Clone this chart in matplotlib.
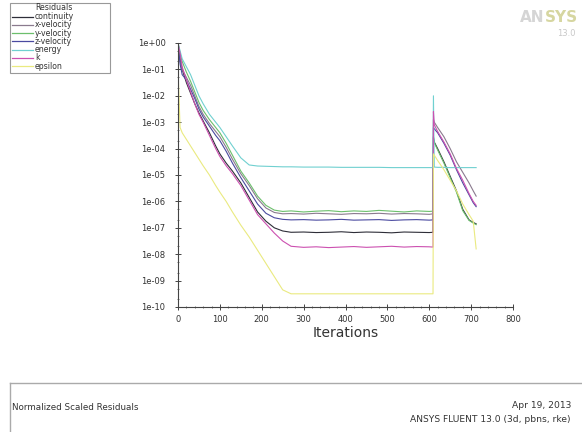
import numpy as np
import matplotlib
matplotlib.use("Agg")
import matplotlib.pyplot as plt
from matplotlib.lines import Line2D
from matplotlib.patches import Rectangle
from matplotlib.ticker import FixedLocator, MultipleLocator, LogLocator, NullFormatter

# ---------------- data (log10 of residuals) ----------------
iterations = [0, 5, 10, 20, 30, 40, 50, 60, 75, 90,
              100, 115, 130, 150, 170, 190, 210, 230, 250, 270,
              300, 330, 360, 390, 420, 450, 480, 510, 540, 570,
              600, 609, 610, 612, 620, 635, 650, 665, 680, 695,
              705, 712]

continuity_log = [0.0, -0.6, -1.0, -1.5, -1.9, -2.3, -2.65, -2.95, -3.4, -3.9,
                  -4.2, -4.55, -4.85, -5.3, -5.85, -6.4, -6.75, -7.0, -7.12, -7.17,
                  -7.16, -7.18, -7.17, -7.15, -7.18, -7.16, -7.17, -7.19, -7.16, -7.17,
                  -7.18, -7.17, -3.55, -3.75, -4.0, -4.5, -5.05, -5.6, -6.3, -6.7,
                  -6.8, -6.85]
xvel_log = [0.0, -0.7, -1.0, -1.3, -1.6, -2.0, -2.4, -2.7, -3.05, -3.35,
            -3.55, -3.95, -4.4, -4.95, -5.4, -5.9, -6.25, -6.42, -6.47, -6.46,
            -6.48, -6.45, -6.47, -6.49, -6.46, -6.47, -6.45, -6.48, -6.46, -6.47,
            -6.49, -6.47, -2.9, -3.0, -3.2, -3.55, -4.0, -4.5, -4.9, -5.3,
            -5.6, -5.8]
yvel_log = [0.0, -0.4, -0.7, -1.1, -1.45, -1.85, -2.25, -2.55, -2.9, -3.2,
            -3.4, -3.8, -4.25, -4.85, -5.3, -5.8, -6.15, -6.33, -6.38, -6.36,
            -6.40, -6.37, -6.35, -6.39, -6.36, -6.38, -6.34, -6.37, -6.40, -6.36,
            -6.38, -6.37, -3.6, -3.78, -4.05, -4.55, -5.1, -5.65, -6.35, -6.72,
            -6.82, -6.88]
zvel_log = [0.0, -0.8, -1.2, -1.4, -1.75, -2.1, -2.5, -2.8, -3.15, -3.5,
            -3.7, -4.1, -4.55, -5.1, -5.6, -6.1, -6.45, -6.62, -6.68, -6.70,
            -6.69, -6.71, -6.70, -6.68, -6.71, -6.70, -6.69, -6.72, -6.70, -6.69,
            -6.71, -6.70, -3.2, -3.25, -3.4, -3.8, -4.25, -4.8, -5.3, -5.75,
            -6.05, -6.2]
energy_log = [0.0, -0.3, -0.6, -0.9, -1.2, -1.6, -2.0, -2.3, -2.7, -3.0,
              -3.2, -3.55, -3.9, -4.35, -4.62, -4.66, -4.67, -4.68, -4.69, -4.69,
              -4.70, -4.70, -4.70, -4.71, -4.71, -4.71, -4.71, -4.72, -4.72, -4.72,
              -4.72, -4.72, -2.0, -4.70, -4.71, -4.71, -4.72, -4.72, -4.72, -4.72,
              -4.72, -4.72]
k_log = [0.0, -0.4, -0.9, -1.4, -1.85, -2.3, -2.7, -3.0, -3.5, -4.0,
         -4.3, -4.65, -4.95, -5.4, -5.95, -6.5, -6.85, -7.2, -7.5, -7.7,
         -7.74, -7.72, -7.75, -7.73, -7.71, -7.74, -7.72, -7.70, -7.73, -7.71,
         -7.72, -7.73, -2.6, -3.1, -3.35, -3.75, -4.2, -4.75, -5.2, -5.7,
         -6.0, -6.15]
epsilon_log = [-1.0, -3.2, -3.4, -3.65, -3.9, -4.15, -4.4, -4.65, -5.0, -5.4,
               -5.65, -6.0, -6.4, -6.9, -7.35, -7.85, -8.35, -8.85, -9.35, -9.5,
               -9.5, -9.5, -9.5, -9.5, -9.5, -9.5, -9.5, -9.5, -9.5, -9.5,
               -9.5, -9.5, -4.2, -4.25, -4.45, -4.8, -5.2, -5.6, -6.1, -6.5,
               -6.75, -7.8]

series_names = ["continuity", "x-velocity", "y-velocity", "z-velocity", "energy", "k", "epsilon"]
series_logs = [continuity_log, xvel_log, yvel_log, zvel_log, energy_log, k_log, epsilon_log]
series_colors = ["#2e2e38", "#8a7a8e", "#6cbf6c", "#4a4aa0", "#70d0d0", "#cc50b0", "#eaea80"]

x_ticks = [0, 100, 200, 300, 400, 500, 600, 700, 800]
y_exponents = list(range(0, -11, -1))
y_tick_labels = ["1e+00", "1e-01", "1e-02", "1e-03", "1e-04", "1e-05",
                 "1e-06", "1e-07", "1e-08", "1e-09", "1e-10"]

# ---------------- figure ----------------
W, H = 582, 432
fig = plt.figure(figsize=(W / 100, H / 100), dpi=100)
fig.patch.set_facecolor("white")

def fx(px):
    return px / W

def fy(py):
    return 1 - py / H

ax = fig.add_axes([fx(178), fy(307), fx(513) - fx(178), fy(43) - fy(307)])
ax.set_yscale("log")
it = np.array(iterations)
for name, lg, col in zip(series_names, series_logs, series_colors):
    ax.plot(it, 10.0 ** np.array(lg), color=col, lw=0.8)

ax.set_xlim(0, 800)
ax.set_ylim(1e-10, 1e0)
for s in ["top", "right"]:
    ax.spines[s].set_visible(False)
for s in ["left", "bottom"]:
    ax.spines[s].set_color("#444444")
    ax.spines[s].set_linewidth(0.8)

ax.xaxis.set_major_locator(FixedLocator(x_ticks))
ax.xaxis.set_minor_locator(MultipleLocator(20))
ax.set_xticklabels([str(v) for v in x_ticks])
ax.yaxis.set_major_locator(FixedLocator([10.0 ** e for e in y_exponents]))
ax.set_yticklabels(y_tick_labels)
ax.yaxis.set_minor_locator(LogLocator(base=10, subs=(2.0, 5.0), numticks=100))
ax.yaxis.set_minor_formatter(NullFormatter())
ax.tick_params(axis="both", which="major", direction="inout", length=4, width=0.7,
               color="#444444", labelsize=6, labelcolor="#333333")
ax.tick_params(axis="y", which="major", pad=7)
ax.tick_params(axis="x", which="major", pad=4)
ax.tick_params(axis="both", which="minor", direction="inout", length=2, width=0.5,
               color="#444444")
ax.set_xlabel("Iterations", fontsize=10, color="#333333", labelpad=1)

# legend box (manual, Fluent style)
fig.add_artist(Rectangle((fx(10), fy(73)), fx(110) - fx(10), fy(3) - fy(73),
                         transform=fig.transFigure, fill=False, ec="#999999", lw=0.8))
fig.text(fx(35), fy(8), "Residuals", fontsize=5.6, color="#333333", va="center")
for i, (name, col) in enumerate(zip(series_names, series_colors)):
    yy = fy(16.5 + i * 8.3)
    fig.add_artist(Line2D([fx(12), fx(33)], [yy, yy], transform=fig.transFigure,
                          color=col, lw=0.9))
    fig.text(fx(35), yy, name, fontsize=5.6, color="#333333", va="center")

# ANSYS logo
sys_txt = fig.text(fx(578), fy(18), "SYS", fontsize=11, fontweight="bold",
                   color="#d6d6a0", ha="right", va="center")
fig.canvas.draw()
bb = sys_txt.get_window_extent(renderer=fig.canvas.get_renderer())
fig.text(bb.x0 / W, fy(18), "AN", fontsize=11, fontweight="bold", color="#d5d5d5",
         ha="right", va="center")
fig.text(fx(576), fy(33), "13.0", fontsize=6, color="#c8c8c8", ha="right", va="center")

# bottom info panel
fig.add_artist(Line2D([fx(10), fx(582)], [fy(383), fy(383)], transform=fig.transFigure,
                      color="#aaaaaa", lw=1.0))
fig.add_artist(Line2D([fx(10), fx(10)], [fy(383), fy(432)], transform=fig.transFigure,
                      color="#aaaaaa", lw=1.0))
fig.text(fx(12), fy(408), "Normalized Scaled Residuals", fontsize=6.3, color="#333333",
         va="center")
fig.text(fx(571), fy(406), "Apr 19, 2013", fontsize=6.6, color="#333333",
         ha="right", va="center")
fig.text(fx(571), fy(420), "ANSYS FLUENT 13.0 (3d, pbns, rke)", fontsize=6.6,
         color="#333333", ha="right", va="center")

fig.savefig("out.png", dpi=100)
